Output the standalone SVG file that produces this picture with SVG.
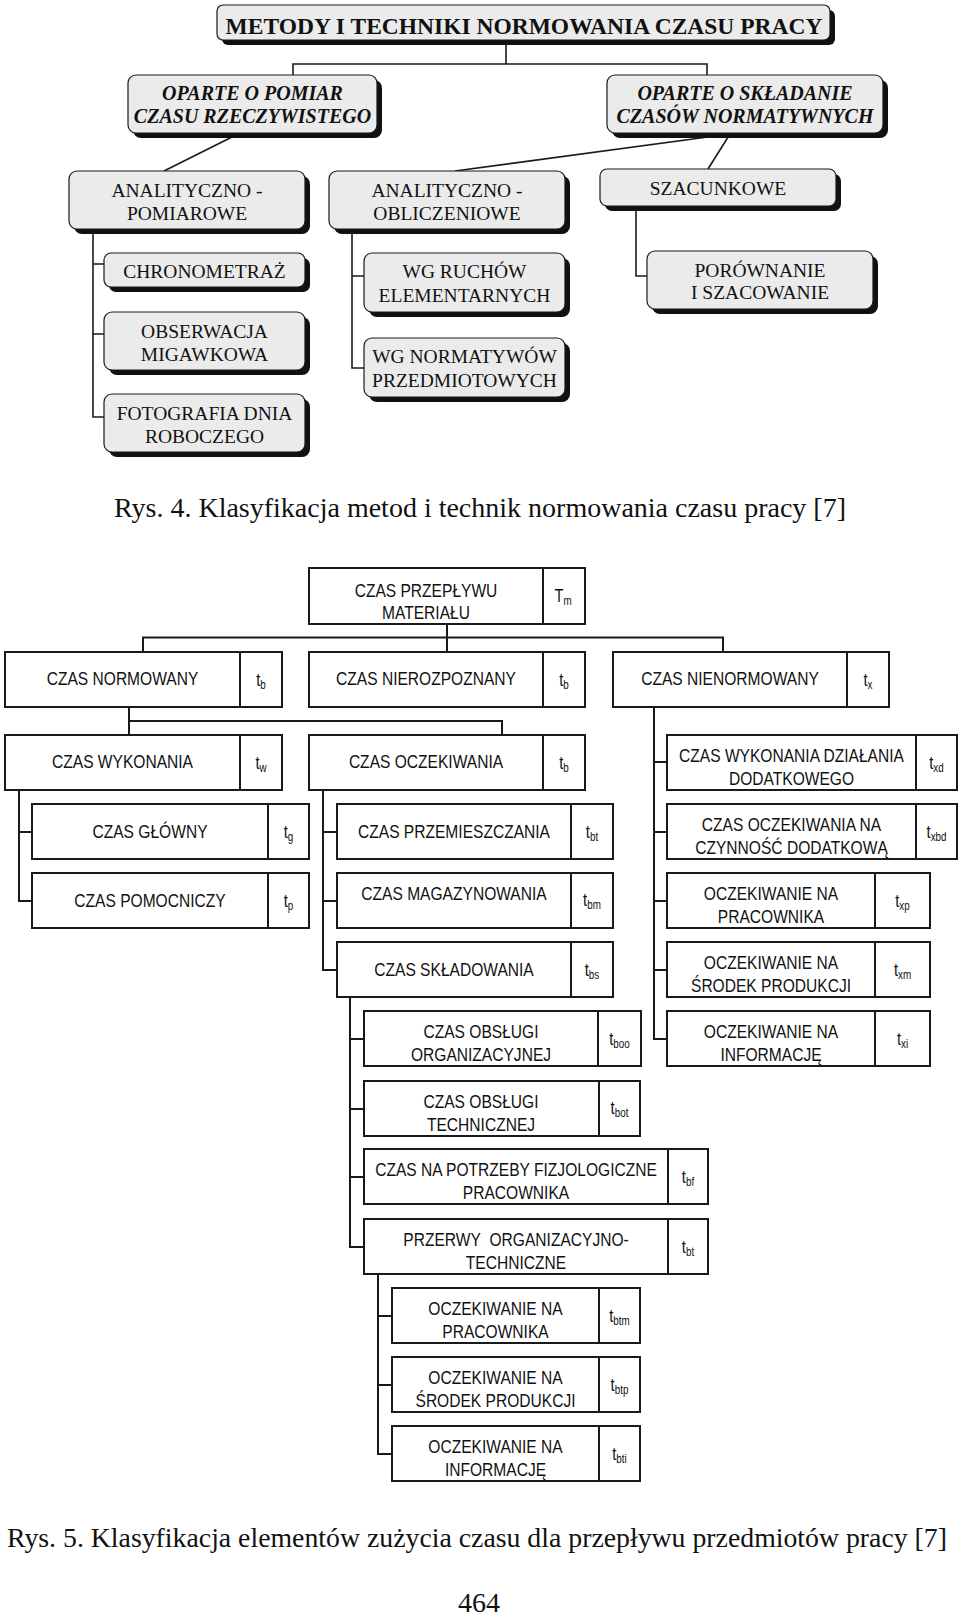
<svg xmlns="http://www.w3.org/2000/svg" width="960" height="1623" viewBox="0 0 960 1623">
<style>
.bg{fill:#ffffff}
.tb{fill:#ebebeb;stroke:#1a1a1a;stroke-width:1.2}
.sh{fill:#111111}
.con{fill:none;stroke:#1a1a1a;stroke-width:1.6}
.con2{fill:none;stroke:#1a1a1a;stroke-width:2}
.lb{fill:#ffffff;stroke:#1a1a1a;stroke-width:2}
.dv{stroke:#1a1a1a;stroke-width:2}
.t1{font-family:"Liberation Serif","Times New Roman",serif;font-size:23.5px;font-weight:bold;text-anchor:middle;fill:#111}
.t2{font-family:"Liberation Serif","Times New Roman",serif;font-size:20px;font-weight:bold;font-style:italic;text-anchor:middle;fill:#111}
.t3{font-family:"Liberation Serif","Times New Roman",serif;font-size:19.5px;text-anchor:middle;fill:#111}
.s{font-family:"Liberation Sans",Arial,sans-serif;font-size:19px;text-anchor:middle;fill:#111}
.l{font-family:"Liberation Sans",Arial,sans-serif;font-size:18px;text-anchor:middle;fill:#111}
.sub{font-size:12px}
.cap{font-family:"Liberation Serif","Times New Roman",serif;font-size:28px;fill:#111}
</style>
<rect class="bg" x="0" y="0" width="960" height="1623"/>

<g id="connectors">
  <path class="con" d="M506 40 V64 M293 75 V64 H707 V75"/>
  <path class="con" d="M238 134 L164 171"/>
  <path class="con" d="M730 134 L455 171"/>
  <path class="con" d="M730 134 L708 169"/>
  <path class="con" d="M93 229 V417 H104 M93 264 H104 M93 334 H104"/>
  <path class="con" d="M352 229 V368 H364 M352 276 H364"/>
  <path class="con" d="M636 206 V276 H647"/>

  <path class="con2" d="M447 624 V652 M143 652 V637.5 H723 V652"/>
  <path class="con2" d="M129 707 V735 M129 721 H502 V735"/>
  <path class="con2" d="M19 790 V901 H32 M19 832 H32"/>
  <path class="con2" d="M323 790 V970 H337 M323 832 H337 M323 901 H337"/>
  <path class="con2" d="M350 997 V1247 H364 M350 1039 H364 M350 1109 H364 M350 1177 H364"/>
  <path class="con2" d="M378 1274 V1454 H392 M378 1316 H392 M378 1385 H392"/>
  <path class="con2" d="M654 707 V1039 H667 M654 762 H667 M654 832 H667 M654 901 H667 M654 970 H667"/>
</g>

<!-- Rys. 4 -->
<g id="n-metody">
  <rect class="sh" x="222" y="10" width="613" height="35" rx="6"/>
  <rect class="tb" x="217" y="5" width="613" height="35" rx="6"/>
  <text class="t1" x="524" y="34">METODY I TECHNIKI NORMOWANIA CZASU PRACY</text>
</g>
<g id="n-pomiar">
  <rect class="sh" x="133" y="80" width="249" height="58" rx="8"/>
  <rect class="tb" x="128" y="75" width="249" height="58" rx="8"/>
  <text class="t2" x="252.5" y="100">OPARTE O POMIAR</text>
  <text class="t2" x="252.5" y="123">CZASU RZECZYWISTEGO</text>
</g>
<g id="n-skladanie">
  <rect class="sh" x="612" y="80" width="276" height="58" rx="8"/>
  <rect class="tb" x="607" y="75" width="276" height="58" rx="8"/>
  <text class="t2" x="745" y="100">OPARTE O SKŁADANIE</text>
  <text class="t2" x="745" y="123">CZASÓW NORMATYWNYCH</text>
</g>
<g id="n-anal-pom">
  <rect class="sh" x="74" y="176" width="236" height="58" rx="8"/>
  <rect class="tb" x="69" y="171" width="236" height="58" rx="8"/>
  <text class="t3" x="187" y="197">ANALITYCZNO -</text>
  <text class="t3" x="187" y="220">POMIAROWE</text>
</g>
<g id="n-anal-obl">
  <rect class="sh" x="334" y="176" width="236" height="58" rx="8"/>
  <rect class="tb" x="329" y="171" width="236" height="58" rx="8"/>
  <text class="t3" x="447" y="197">ANALITYCZNO -</text>
  <text class="t3" x="447" y="220">OBLICZENIOWE</text>
</g>
<g id="n-szacunkowe">
  <rect class="sh" x="605" y="174" width="236" height="37" rx="7"/>
  <rect class="tb" x="600" y="169" width="236" height="37" rx="7"/>
  <text class="t3" x="718" y="195">SZACUNKOWE</text>
</g>
<g id="n-chrono">
  <rect class="sh" x="109" y="258" width="201" height="34" rx="7"/>
  <rect class="tb" x="104" y="253" width="201" height="34" rx="7"/>
  <text class="t3" x="204.5" y="278">CHRONOMETRAŻ</text>
</g>
<g id="n-obserwacja">
  <rect class="sh" x="109" y="317" width="201" height="58" rx="8"/>
  <rect class="tb" x="104" y="312" width="201" height="58" rx="8"/>
  <text class="t3" x="204.5" y="338">OBSERWACJA</text>
  <text class="t3" x="204.5" y="361">MIGAWKOWA</text>
</g>
<g id="n-fotografia">
  <rect class="sh" x="109" y="399" width="201" height="58" rx="8"/>
  <rect class="tb" x="104" y="394" width="201" height="58" rx="8"/>
  <text class="t3" x="204.5" y="420">FOTOGRAFIA DNIA</text>
  <text class="t3" x="204.5" y="443">ROBOCZEGO</text>
</g>
<g id="n-ruchow">
  <rect class="sh" x="369" y="258" width="201" height="59" rx="8"/>
  <rect class="tb" x="364" y="253" width="201" height="59" rx="8"/>
  <text class="t3" x="464.5" y="278">WG RUCHÓW</text>
  <text class="t3" x="464.5" y="302">ELEMENTARNYCH</text>
</g>
<g id="n-normatywow">
  <rect class="sh" x="369" y="343" width="201" height="59" rx="8"/>
  <rect class="tb" x="364" y="338" width="201" height="59" rx="8"/>
  <text class="t3" x="464.5" y="363">WG NORMATYWÓW</text>
  <text class="t3" x="464.5" y="387">PRZEDMIOTOWYCH</text>
</g>
<g id="n-porownanie">
  <rect class="sh" x="652" y="256" width="226" height="58" rx="8"/>
  <rect class="tb" x="647" y="251" width="226" height="58" rx="8"/>
  <text class="t3" x="760" y="277">PORÓWNANIE</text>
  <text class="t3" x="760" y="299">I SZACOWANIE</text>
</g>

<text id="cap4" class="cap" x="114" y="517" textLength="732" lengthAdjust="spacingAndGlyphs">Rys. 4. Klasyfikacja metod i technik normowania czasu pracy [7]</text>

<!-- Rys. 5 -->
<g id="n-przeplyw">
  <rect class="lb" x="309" y="568" width="276" height="56"/><line class="dv" x1="543" y1="568" x2="543" y2="624"/>
  <text class="s" transform="translate(426 597) scale(.82 1)">CZAS PRZEPŁYWU</text><text class="s" transform="translate(426 619) scale(.82 1)">MATERIAŁU</text>
  <text class="l" transform="translate(563 602) scale(.82 1)">T<tspan class="sub" dy="3">m</tspan></text>
</g>
<g id="n-normowany">
  <rect class="lb" x="5" y="652" width="277" height="55"/><line class="dv" x1="240" y1="652" x2="240" y2="707"/>
  <text class="s" transform="translate(122.5 685) scale(.82 1)">CZAS NORMOWANY</text>
  <text class="l" transform="translate(261 686) scale(.82 1)">t<tspan class="sub" dy="3">b</tspan></text>
</g>
<g id="n-nierozpoznany">
  <rect class="lb" x="309" y="652" width="276" height="55"/><line class="dv" x1="543" y1="652" x2="543" y2="707"/>
  <text class="s" transform="translate(426 685) scale(.82 1)">CZAS NIEROZPOZNANY</text>
  <text class="l" transform="translate(564 686) scale(.82 1)">t<tspan class="sub" dy="3">b</tspan></text>
</g>
<g id="n-nienormowany">
  <rect class="lb" x="613" y="652" width="276" height="55"/><line class="dv" x1="847" y1="652" x2="847" y2="707"/>
  <text class="s" transform="translate(730 685) scale(.82 1)">CZAS NIENORMOWANY</text>
  <text class="l" transform="translate(868 686) scale(.82 1)">t<tspan class="sub" dy="3">x</tspan></text>
</g>
<g id="n-wykonania">
  <rect class="lb" x="5" y="735" width="277" height="55"/><line class="dv" x1="240" y1="735" x2="240" y2="790"/>
  <text class="s" transform="translate(122.5 768) scale(.82 1)">CZAS WYKONANIA</text>
  <text class="l" transform="translate(261 769) scale(.82 1)">t<tspan class="sub" dy="3">w</tspan></text>
</g>
<g id="n-oczekiwania">
  <rect class="lb" x="309" y="735" width="276" height="55"/><line class="dv" x1="543" y1="735" x2="543" y2="790"/>
  <text class="s" transform="translate(426 768) scale(.82 1)">CZAS OCZEKIWANIA</text>
  <text class="l" transform="translate(564 769) scale(.82 1)">t<tspan class="sub" dy="3">b</tspan></text>
</g>
<g id="n-dzialania">
  <rect class="lb" x="667" y="735" width="290" height="55"/><line class="dv" x1="916" y1="735" x2="916" y2="790"/>
  <text class="s" transform="translate(791.5 762) scale(.82 1)">CZAS WYKONANIA DZIAŁANIA</text><text class="s" transform="translate(791.5 785) scale(.82 1)">DODATKOWEGO</text>
  <text class="l" transform="translate(936.5 769) scale(.82 1)">t<tspan class="sub" dy="3">xd</tspan></text>
</g>
<g id="n-glowny">
  <rect class="lb" x="32" y="804" width="277" height="55"/><line class="dv" x1="268" y1="804" x2="268" y2="859"/>
  <text class="s" transform="translate(150 837.5) scale(.82 1)">CZAS GŁÓWNY</text>
  <text class="l" transform="translate(288.5 838) scale(.82 1)">t<tspan class="sub" dy="3">g</tspan></text>
</g>
<g id="n-przemieszczania">
  <rect class="lb" x="337" y="804" width="276" height="55"/><line class="dv" x1="571" y1="804" x2="571" y2="859"/>
  <text class="s" transform="translate(454 837.5) scale(.82 1)">CZAS PRZEMIESZCZANIA</text>
  <text class="l" transform="translate(592 838) scale(.82 1)">t<tspan class="sub" dy="3">bt</tspan></text>
</g>
<g id="n-czynnosc">
  <rect class="lb" x="667" y="804" width="290" height="55"/><line class="dv" x1="916" y1="804" x2="916" y2="859"/>
  <text class="s" transform="translate(791.5 831) scale(.82 1)">CZAS OCZEKIWANIA NA</text><text class="s" transform="translate(791.5 854) scale(.82 1)">CZYNNOŚĆ DODATKOWĄ</text>
  <text class="l" transform="translate(936.5 838) scale(.82 1)">t<tspan class="sub" dy="3">xbd</tspan></text>
</g>
<g id="n-pomocniczy">
  <rect class="lb" x="32" y="873" width="277" height="55"/><line class="dv" x1="268" y1="873" x2="268" y2="928"/>
  <text class="s" transform="translate(150 906.5) scale(.82 1)">CZAS POMOCNICZY</text>
  <text class="l" transform="translate(288.5 907) scale(.82 1)">t<tspan class="sub" dy="3">p</tspan></text>
</g>
<g id="n-magazynowania">
  <rect class="lb" x="337" y="873" width="276" height="55"/><line class="dv" x1="571" y1="873" x2="571" y2="928"/>
  <text class="s" transform="translate(454 900) scale(.82 1)">CZAS MAGAZYNOWANIA</text>
  <text class="l" transform="translate(592 906) scale(.82 1)">t<tspan class="sub" dy="3">bm</tspan></text>
</g>
<g id="n-xp">
  <rect class="lb" x="667" y="873" width="263" height="55"/><line class="dv" x1="875" y1="873" x2="875" y2="928"/>
  <text class="s" transform="translate(771 900) scale(.82 1)">OCZEKIWANIE NA</text><text class="s" transform="translate(771 923) scale(.82 1)">PRACOWNIKA</text>
  <text class="l" transform="translate(902.5 907) scale(.82 1)">t<tspan class="sub" dy="3">xp</tspan></text>
</g>
<g id="n-skladowania">
  <rect class="lb" x="337" y="942" width="276" height="55"/><line class="dv" x1="571" y1="942" x2="571" y2="997"/>
  <text class="s" transform="translate(454 975.5) scale(.82 1)">CZAS SKŁADOWANIA</text>
  <text class="l" transform="translate(592 976) scale(.82 1)">t<tspan class="sub" dy="3">bs</tspan></text>
</g>
<g id="n-xm">
  <rect class="lb" x="667" y="942" width="263" height="55"/><line class="dv" x1="875" y1="942" x2="875" y2="997"/>
  <text class="s" transform="translate(771 969) scale(.82 1)">OCZEKIWANIE NA</text><text class="s" transform="translate(771 992) scale(.82 1)">ŚRODEK PRODUKCJI</text>
  <text class="l" transform="translate(902.5 976) scale(.82 1)">t<tspan class="sub" dy="3">xm</tspan></text>
</g>
<g id="n-organizacyjnej">
  <rect class="lb" x="364" y="1011" width="277" height="55"/><line class="dv" x1="598" y1="1011" x2="598" y2="1066"/>
  <text class="s" transform="translate(481 1038) scale(.82 1)">CZAS OBSŁUGI</text><text class="s" transform="translate(481 1061) scale(.82 1)">ORGANIZACYJNEJ</text>
  <text class="l" transform="translate(619.5 1045) scale(.82 1)">t<tspan class="sub" dy="3">boo</tspan></text>
</g>
<g id="n-xi">
  <rect class="lb" x="667" y="1011" width="263" height="55"/><line class="dv" x1="875" y1="1011" x2="875" y2="1066"/>
  <text class="s" transform="translate(771 1038) scale(.82 1)">OCZEKIWANIE NA</text><text class="s" transform="translate(771 1061) scale(.82 1)">INFORMACJĘ</text>
  <text class="l" transform="translate(902.5 1045) scale(.82 1)">t<tspan class="sub" dy="3">xi</tspan></text>
</g>
<g id="n-technicznej">
  <rect class="lb" x="364" y="1081" width="276" height="55"/><line class="dv" x1="599" y1="1081" x2="599" y2="1136"/>
  <text class="s" transform="translate(481 1108) scale(.82 1)">CZAS OBSŁUGI</text><text class="s" transform="translate(481 1131) scale(.82 1)">TECHNICZNEJ</text>
  <text class="l" transform="translate(619.5 1114) scale(.82 1)">t<tspan class="sub" dy="3">bot</tspan></text>
</g>
<g id="n-fizjologiczne">
  <rect class="lb" x="364" y="1149" width="344" height="55"/><line class="dv" x1="668" y1="1149" x2="668" y2="1204"/>
  <text class="s" transform="translate(516 1176) scale(.82 1)">CZAS NA POTRZEBY FIZJOLOGICZNE</text><text class="s" transform="translate(516 1199) scale(.82 1)">PRACOWNIKA</text>
  <text class="l" transform="translate(688 1183) scale(.82 1)">t<tspan class="sub" dy="3">bf</tspan></text>
</g>
<g id="n-przerwy">
  <rect class="lb" x="364" y="1219" width="344" height="55"/><line class="dv" x1="668" y1="1219" x2="668" y2="1274"/>
  <text class="s" transform="translate(516 1246) scale(.82 1)">PRZERWY&#160; ORGANIZACYJNO-</text><text class="s" transform="translate(516 1269) scale(.82 1)">TECHNICZNE</text>
  <text class="l" transform="translate(688 1253) scale(.82 1)">t<tspan class="sub" dy="3">bt</tspan></text>
</g>
<g id="n-btm">
  <rect class="lb" x="392" y="1288" width="248" height="55"/><line class="dv" x1="599" y1="1288" x2="599" y2="1343"/>
  <text class="s" transform="translate(495.5 1315) scale(.82 1)">OCZEKIWANIE NA</text><text class="s" transform="translate(495.5 1338) scale(.82 1)">PRACOWNIKA</text>
  <text class="l" transform="translate(619.5 1322) scale(.82 1)">t<tspan class="sub" dy="3">btm</tspan></text>
</g>
<g id="n-btp">
  <rect class="lb" x="392" y="1357" width="248" height="55"/><line class="dv" x1="599" y1="1357" x2="599" y2="1412"/>
  <text class="s" transform="translate(495.5 1384) scale(.82 1)">OCZEKIWANIE NA</text><text class="s" transform="translate(495.5 1407) scale(.82 1)">ŚRODEK PRODUKCJI</text>
  <text class="l" transform="translate(619.5 1391) scale(.82 1)">t<tspan class="sub" dy="3">btp</tspan></text>
</g>
<g id="n-bti">
  <rect class="lb" x="392" y="1426" width="248" height="55"/><line class="dv" x1="599" y1="1426" x2="599" y2="1481"/>
  <text class="s" transform="translate(495.5 1453) scale(.82 1)">OCZEKIWANIE NA</text><text class="s" transform="translate(495.5 1476) scale(.82 1)">INFORMACJĘ</text>
  <text class="l" transform="translate(619.5 1460) scale(.82 1)">t<tspan class="sub" dy="3">bti</tspan></text>
</g>

<text id="cap5" class="cap" x="7" y="1547" textLength="940" lengthAdjust="spacingAndGlyphs">Rys. 5. Klasyfikacja elementów zużycia czasu dla przepływu przedmiotów pracy [7]</text>
<text id="page" class="cap" x="479" y="1612" text-anchor="middle">464</text>
</svg>
